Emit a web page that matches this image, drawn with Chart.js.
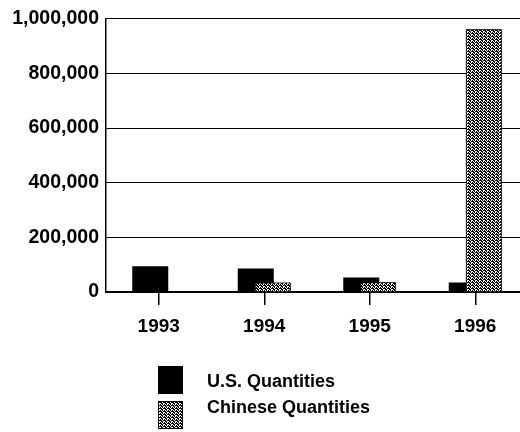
<!DOCTYPE html>
<html>
<head>
<meta charset="utf-8">
<script src="https://cdn.jsdelivr.net/npm/chart.js@4/dist/chart.umd.min.js"></script>
<style>
html,body{margin:0;padding:0;background:#fff;overflow:hidden;width:520px;height:432px;}
canvas{display:block;}
</style>
</head>
<body>
<canvas id="c" width="528" height="432"></canvas>
<script>
const years = ['1993', '1994', '1995', '1996'];
const usQuantities = [94000, 86000, 53000, 35000];
const chineseQuantities = [0, 35000, 36000, 961000];
const seriesLabels = ['U.S. Quantities', 'Chinese Quantities'];
const yTicks = [0, 200000, 400000, 600000, 800000, 1000000];

function makePattern() {
  const t = document.createElement('canvas');
  t.width = 4; t.height = 3;
  const g = t.getContext('2d');
  g.fillStyle = '#fff'; g.fillRect(0, 0, 4, 3);
  g.fillStyle = '#000';
  [[0,0],[1,0],[3,0],[1,1],[2,1],[0,2],[2,2]].forEach(p => g.fillRect(p[0], p[1], 1, 1));
  return document.getElementById('c').getContext('2d').createPattern(t, 'repeat');
}
const pattern = makePattern();
const FONT = 'Liberation Sans, Arial, sans-serif';

// Redraw the second series so it overlaps the first one, as in the original
const overlapPlugin = {
  id: 'overlap',
  afterDatasetsDraw(chart) {
    const meta = chart.getDatasetMeta(1);
    if (meta && meta.controller) meta.controller.draw();
  }
};

const legendPlugin = {
  id: 'sideLegend',
  afterDraw(chart) {
    const ctx = chart.ctx;
    ctx.save();
    const rows = [366, 401];
    const mids = [382, 408];
    chart.data.datasets.forEach((ds, i) => {
      ctx.fillStyle = ds.backgroundColor;
      ctx.fillRect(158, rows[i], 25, 28);
      ctx.strokeStyle = '#000';
      ctx.lineWidth = 1;
      ctx.strokeRect(158.5, rows[i] + 0.5, 24, 27);
      ctx.fillStyle = '#000';
      ctx.font = 'bold 18px ' + FONT;
      ctx.textBaseline = 'middle';
      ctx.textAlign = 'left';
      ctx.fillText(ds.label, 207, mids[i]);
    });
    ctx.restore();
  }
};

new Chart(document.getElementById('c'), {
  type: 'bar',
  data: {
    labels: years,
    datasets: [
      { label: seriesLabels[0], data: usQuantities, backgroundColor: '#000', borderColor: '#000', borderWidth: 0,
        categoryPercentage: 0.322, barPercentage: 2.12 },
      { label: seriesLabels[1], data: chineseQuantities, backgroundColor: pattern, borderColor: '#000', borderWidth: 1,
        categoryPercentage: 0.322, barPercentage: 2.12 }
    ]
  },
  options: {
    responsive: false,
    animation: false,
    layout: { padding: { top: 16, right: 0, bottom: 92, left: 0 } },
    plugins: { legend: { display: false }, tooltip: { enabled: false } },
    scales: {
      x: {
        offset: true,
        grid: { offset: false, drawOnChartArea: false, drawTicks: true, tickLength: 13, color: '#000', lineWidth: 1.5 },
        border: { display: true, color: '#000', width: 1.5 },
        ticks: { color: '#000', padding: 10, font: { family: FONT, size: 19, weight: 'bold' }, maxRotation: 0 },
        afterFit(s) { s.height = 48; }
      },
      y: {
        min: 0, max: 1000000,
        afterBuildTicks(s) { s.ticks = yTicks.map(v => ({ value: v })); },
        grid: { color: '#000', lineWidth: 1, drawTicks: false },
        border: { display: true, color: '#000', width: 1.5 },
        ticks: { color: '#000', padding: 7, font: { family: FONT, size: 19.5, weight: 'bold' },
          callback: v => v.toLocaleString('en-US') },
        afterFit(s) { s.width = 106; }
      }
    }
  },
  plugins: [overlapPlugin, legendPlugin]
});
</script>
</body>
</html>
